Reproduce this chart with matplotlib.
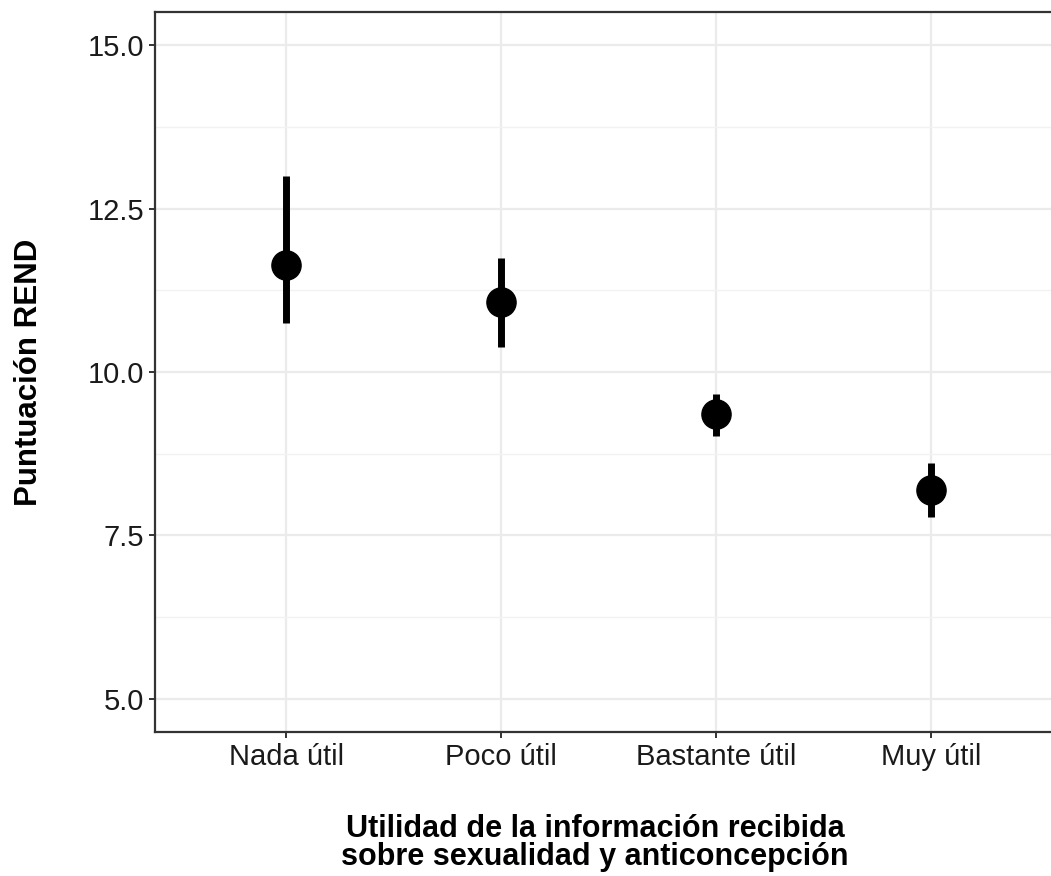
import numpy as np
import matplotlib.pyplot as plt
from matplotlib.ticker import MultipleLocator

plt.rcParams['font.family'] = ['Liberation Sans', 'DejaVu Sans']

categorias = ['Nada útil', 'Poco útil', 'Bastante útil', 'Muy útil']
media = [11.64, 11.07, 9.36, 8.19]
ic_inf = [10.75, 10.38, 9.02, 7.78]
ic_sup = [13.0, 11.74, 9.66, 8.61]

fig = plt.figure(figsize=(10.51, 8.76), dpi=100)
# panel runs slightly past the right edge, as in the original
ax = fig.add_axes([155/1051, 1 - 732/876, 907/1051, 720/876])

x = np.arange(len(categorias))
ax.vlines(x, ic_inf, ic_sup, color='black', lw=5, zorder=3)
ax.plot(x, media, 'o', color='black', ms=21, zorder=4)

ax.set_xlim(-0.61, len(categorias) - 1 + 0.61)
ax.set_ylim(4.49, 15.51)
ax.set_xticks(x)
ax.set_xticklabels(categorias)
ax.yaxis.set_minor_locator(MultipleLocator(1.25))
ax.set_yticks([5.0, 7.5, 10.0, 12.5, 15.0])
ax.set_yticklabels(['5.0', '7.5', '10.0', '12.5', '15.0'])

ax.grid(which='major', color='#EBEBEB', lw=1.6)
ax.grid(which='minor', axis='y', color='#F2F2F2', lw=1.0)
ax.set_axisbelow(True)
for s in ax.spines.values():
    s.set_color('#333333')
    s.set_linewidth(1.6)

ax.tick_params(which='major', length=4, width=1.4, color='#333333',
               labelsize=21, labelcolor='#1a1a1a', pad=4)
ax.tick_params(which='minor', length=0)

ax.set_ylabel('Puntuación REND', fontsize=22.5, fontweight='bold', labelpad=31)
ax.set_xlabel('Utilidad de la información recibida\nsobre sexualidad y anticoncepción',
              fontsize=22, fontweight='bold', linespacing=0.9)
ax.xaxis.set_label_coords(0.485, -0.114)

fig.savefig('out.png', dpi=100)
